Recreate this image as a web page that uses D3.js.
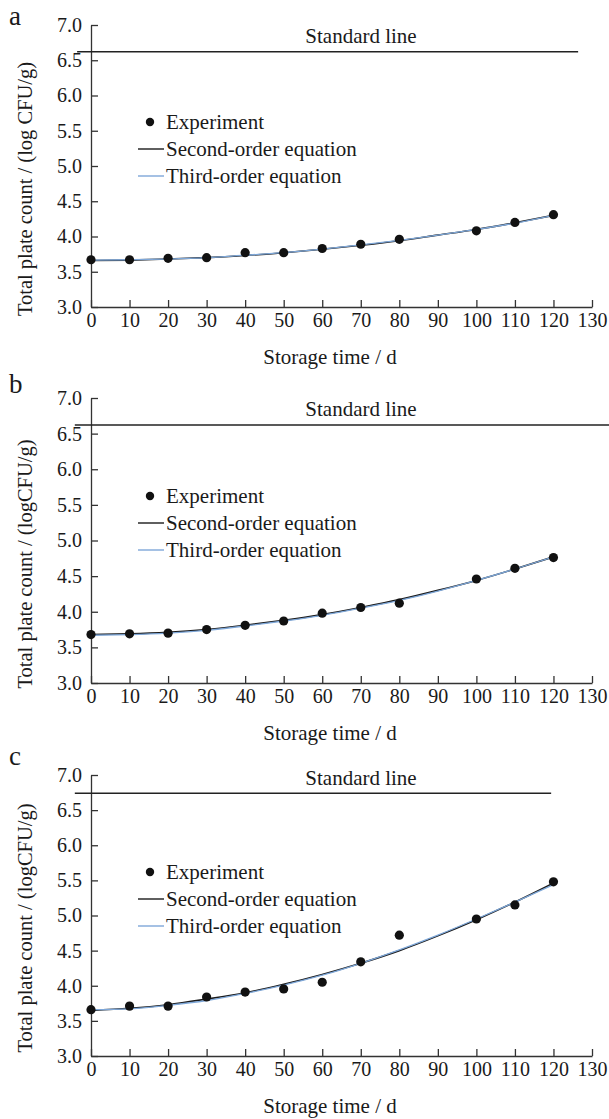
<!DOCTYPE html>
<html>
<head>
<meta charset="utf-8">
<script src="https://cdn.jsdelivr.net/npm/d3@7"></script>
<style>
  html, body { margin: 0; padding: 0; background: #fff; }
  svg { display: block; }
  text { font-family: "Liberation Serif", "Times New Roman", serif; fill: #1a1a1a; }
</style>
</head>
<body>
<svg id="chart" width="609" height="1119"></svg>
<script>
// ---------------- DATA ----------------
const days = [0, 10, 20, 30, 40, 50, 60, 70, 80, 100, 110, 120];
const fitDays = [0, 10, 20, 30, 40, 50, 60, 70, 80, 90, 100, 110, 120];
const xTicks = [0, 10, 20, 30, 40, 50, 60, 70, 80, 90, 100, 110, 120, 130];
const yTicks = [3.0, 3.5, 4.0, 4.5, 5.0, 5.5, 6.0, 6.5, 7.0];

// panel a
const expA    = [3.67, 3.67, 3.69, 3.70, 3.77, 3.77, 3.83, 3.89, 3.96, 4.08, 4.20, 4.31];
const secondA = [3.66, 3.665, 3.68, 3.70, 3.73, 3.77, 3.82, 3.875, 3.94, 4.02, 4.10, 4.195, 4.30];
const thirdA  = [3.665, 3.67, 3.68, 3.70, 3.735, 3.77, 3.82, 3.88, 3.945, 4.02, 4.10, 4.19, 4.30];
// panel b
const expB    = [3.68, 3.69, 3.70, 3.75, 3.81, 3.87, 3.98, 4.06, 4.12, 4.46, 4.61, 4.76];
const secondB = [3.68, 3.69, 3.71, 3.75, 3.81, 3.88, 3.96, 4.06, 4.17, 4.30, 4.44, 4.60, 4.77];
const thirdB  = [3.67, 3.68, 3.70, 3.74, 3.80, 3.87, 3.95, 4.05, 4.16, 4.29, 4.44, 4.60, 4.77];
// panel c
const expC    = [3.66, 3.71, 3.71, 3.84, 3.91, 3.955, 4.05, 4.34, 4.72, 4.95, 5.15, 5.48];
const secondC = [3.65, 3.68, 3.73, 3.81, 3.90, 4.02, 4.16, 4.32, 4.50, 4.71, 4.94, 5.19, 5.46];
const thirdC  = [3.66, 3.67, 3.72, 3.79, 3.89, 4.01, 4.15, 4.32, 4.51, 4.72, 4.95, 5.19, 5.44];

// standard line: value and extent (days)
const standardValues = [6.62, 6.62, 6.74];
const standardExtents = [[-3.6, 126.4], [-4.2, 135], [-4.2, 119.4]];

const panelLetters = ["a", "b", "c"];
const yTitles = ["Total plate count / (log CFU/g)", "Total plate count / (logCFU/g)", "Total plate count / (logCFU/g)"];
const xTitle = "Storage time / d";
const standardLabel = "Standard line";
const legendLabels = ["Experiment", "Second-order equation", "Third-order equation"];

// ---------------- LAYOUT ----------------
const layout = [
  { top: 25,  bottom: 307,  letterY: 25,  titleY: 189, stdTextY: 36,  legendY: 122 },
  { top: 398, bottom: 683,  letterY: 393, titleY: 564, stdTextY: 409, legendY: 496 },
  { top: 775, bottom: 1056, letterY: 765, titleY: 928, stdTextY: 778, legendY: 872 }
];
const expSets = [expA, expB, expC];
const secondSets = [secondA, secondB, secondC];
const thirdSets = [thirdA, thirdB, thirdC];

const BLACK = "#1a1a1a";
const BLUE = "#7ea7d8";
const AXIS = "#333";

const svg = d3.select("#chart");
svg.append("rect").attr("width", 609).attr("height", 1119).attr("fill", "#fff");

const x = d3.scaleLinear().domain([0, 130]).range([91, 592]);

layout.forEach((L, i) => {
  const g = svg.append("g");
  const y = d3.scaleLinear().domain([3, 7]).range([L.bottom, L.top]);

  // axes
  const yAxis = d3.axisLeft(y).tickValues(yTicks).tickFormat(d3.format(".1f"))
    .tickSizeInner(-7).tickSizeOuter(0).tickPadding(9);
  const xAxis = d3.axisBottom(x).tickValues(xTicks).tickFormat(d3.format("d"))
    .tickSizeInner(-7).tickSizeOuter(0).tickPadding(6);

  const ya = g.append("g").attr("transform", `translate(${x(0)},0)`).call(yAxis);
  const xa = g.append("g").attr("transform", `translate(0,${L.bottom})`).call(xAxis);
  [ya, xa].forEach(a => {
    a.select(".domain").attr("stroke", AXIS).attr("stroke-width", 1.3);
    a.selectAll(".tick line").attr("stroke", AXIS).attr("stroke-width", 1.3);
    a.selectAll(".tick text").attr("font-size", 20)
      .attr("font-family", "Liberation Serif, Times New Roman, serif").attr("fill", "#1a1a1a");
  });

  // standard line
  g.append("line")
    .attr("x1", x(standardExtents[i][0])).attr("x2", x(standardExtents[i][1]))
    .attr("y1", y(standardValues[i])).attr("y2", y(standardValues[i]))
    .attr("stroke", "#222").attr("stroke-width", 1.5);
  g.append("text").attr("x", 361).attr("y", L.stdTextY).attr("dy", "0.35em")
    .attr("text-anchor", "middle").attr("font-size", 21).text(standardLabel);

  // curves
  const line = d3.line().x((d, j) => x(fitDays[j])).y(d => y(d)).curve(d3.curveNatural);
  g.append("path").datum(secondSets[i]).attr("d", line)
    .attr("fill", "none").attr("stroke", BLACK).attr("stroke-width", 1.6);
  g.append("path").datum(thirdSets[i]).attr("d", line)
    .attr("fill", "none").attr("stroke", BLUE).attr("stroke-width", 1.3);

  // points
  g.selectAll("circle.pt").data(expSets[i]).join("circle").attr("class", "pt")
    .attr("cx", (d, j) => x(days[j])).attr("cy", d => y(d)).attr("r", 4.6).attr("fill", "#111");

  // legend
  const lg = g.append("g");
  lg.append("circle").attr("cx", 150).attr("cy", L.legendY).attr("r", 4.2).attr("fill", "#111");
  lg.append("line").attr("x1", 138).attr("x2", 164).attr("y1", L.legendY + 27).attr("y2", L.legendY + 27)
    .attr("stroke", BLACK).attr("stroke-width", 1.4);
  lg.append("line").attr("x1", 138).attr("x2", 164).attr("y1", L.legendY + 54).attr("y2", L.legendY + 54)
    .attr("stroke", BLUE).attr("stroke-width", 1.4);
  legendLabels.forEach((t, k) => {
    lg.append("text").attr("x", 166).attr("y", L.legendY + 27 * k).attr("dy", "0.35em")
      .attr("font-size", 21).text(t);
  });

  // titles
  g.append("text").attr("transform", `translate(25,${L.titleY}) rotate(-90)`)
    .attr("text-anchor", "middle").attr("dy", "0.35em").attr("font-size", 20.5).text(yTitles[i]);
  g.append("text").attr("x", 330).attr("y", L.bottom + 50).attr("dy", "0.35em")
    .attr("text-anchor", "middle").attr("font-size", 21).text(xTitle);

  // panel letter
  g.append("text").attr("x", 9).attr("y", L.letterY).attr("font-size", 27).text(panelLetters[i]);
});
</script>
</body>
</html>
